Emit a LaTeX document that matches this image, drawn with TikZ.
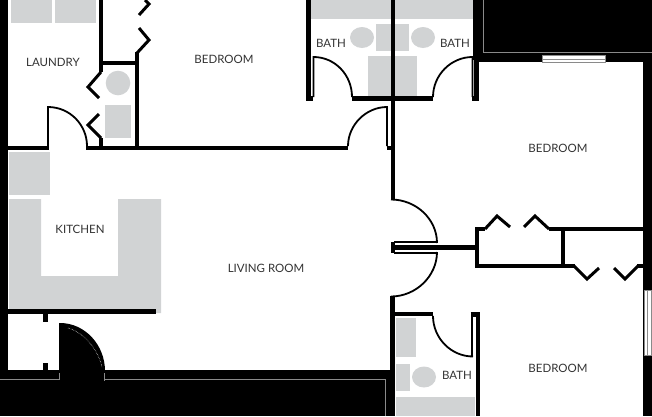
\documentclass[tikz,border=0pt]{standalone}
\usepackage{fontspec}
\setmainfont{Lato}
\definecolor{fixturegray}{HTML}{D1D3D4}
\definecolor{inkgray}{HTML}{333333}
\definecolor{seamgray}{HTML}{8A8A8A}
\tikzset{
  wall/.style={line width=4.3pt},
  swing/.style={line width=1.8pt},
  fold/.style={line width=3pt,line join=miter},
  fixture/.style={fill=fixturegray,draw=none},
  mass/.style={fill=black,draw=none},
  seam/.style={draw=seamgray,line width=0.9pt},
  glass/.style={fill=white,draw=seamgray,line width=0.7pt},
  roomlabel/.style={text=inkgray,font=\fontsize{11.5}{13}\selectfont,inner sep=0pt}
}
\begin{document}
\begin{tikzpicture}[x=1pt,y=-1pt]
  \useasboundingbox (0,0) rectangle (652,416);

  % fixtures
  \fill[fixture] (11,0) rectangle (52,23);
  \fill[fixture] (55,0) rectangle (96,23);
  \fill[fixture] (118,83) circle (12.3pt);
  \fill[fixture] (105,105) rectangle (131,138);
  \fill[fixture] (311,0) rectangle (391,19);
  \fill[fixture] (395,0) rectangle (475,19);
  \fill[fixture] (362,37.5) ellipse (12pt and 10.5pt);
  \fill[fixture] (423,37.5) ellipse (12pt and 10.5pt);
  \fill[fixture] (376,24) rectangle (391,51);
  \fill[fixture] (395,24) rectangle (409,51);
  \fill[fixture] (368,56) rectangle (391,96);
  \fill[fixture] (395,56) rectangle (417,96);
  \fill[fixture] (9,152) rectangle (50,195);
  \fill[fixture] (9,199) -- (41,199) -- (41,276) -- (118,276) -- (118,199) -- (161,199) -- (161,313) -- (9,313) -- cycle;
  \fill[fixture] (396,318) rectangle (416,357);
  \fill[fixture] (396,364) rectangle (410,391);
  \fill[fixture] (424,377) ellipse (12pt and 10.5pt);
  \fill[fixture] (396,397) rectangle (475,416);

  % outer masses
  \fill[mass] (0,0) rectangle (8,379);
  \fill[mass] (0,370) rectangle (394.5,416);
  \fill[mass] (475,0) rectangle (652,62);
  \fill[mass] (643,62) rectangle (652,416);
  \draw[seam] (483.5,0) -- (483.5,52.5) -- (652,52.5);
  \draw[seam] (0,379.5) -- (60,379.5);
  \draw[seam] (105,379.5) -- (385,379.5) -- (385,416);
  \draw[seam,line width=0.6pt] (59,373) -- (59,380);
  \draw[seam,line width=0.6pt] (104,373) -- (104,381);

  % windows
  \filldraw[glass] (542,55.5) rectangle (605,62);
  \draw[seam,line width=0.7pt] (542,59) -- (605,59);
  \filldraw[glass] (644,290) rectangle (651.5,355);
  \draw[seam,line width=0.7pt] (647.5,290) -- (647.5,355);

  % walls
  \draw[wall] (101,0) -- (101,72);
  \draw[wall] (101,63) -- (137,63);
  \draw[wall] (137,52) -- (137,148);
  \draw[wall] (101,138) -- (101,148);
  \draw[wall] (8,148) -- (49,148);
  \draw[wall] (86,148) -- (348,148);
  \draw[wall,line width=5pt] (308.5,0) -- (308.5,100);
  \draw[wall] (392.7,0) -- (392.7,200);
  \draw[wall,line width=7pt] (476.5,0) -- (476.5,60);
  \draw[wall,line width=5.5pt] (476.5,60) -- (476.5,100);
  \draw[wall] (306,98.5) -- (313,98.5);
  \draw[wall] (472,98.5) -- (479,98.5);
  \draw[wall] (352,98.5) -- (433,98.5);
  \draw[wall] (387,148) -- (394,148);
  \draw[wall,line width=4.5pt] (392.5,296) -- (392.5,380);
  \draw[wall] (391,314) -- (433,314);
  \draw[wall] (470.5,314.5) -- (480,314.5);
  \draw[wall] (478,313) -- (478,416);
  \draw[wall] (45.5,313) -- (45.5,322);
  \draw[wall] (45.5,363) -- (45.5,371);
  \draw[wall] (8,311.5) -- (156,311.5);
  \draw[wall,line width=5pt] (392.5,247.5) -- (477,247.5);
  \fill[mass] (391,242) rectangle (395,253);
  \draw[wall] (477,227) -- (477,268);
  \draw[wall] (476,229) -- (485,229);
  \draw[wall] (549,229) -- (645,229);
  \draw[wall] (563,229) -- (563,266);
  \draw[wall] (475,266) -- (575,266);
  \draw[wall] (637,266) -- (645,266);

  % folding doors
  \draw[fold] (137,53) -- (149,40) -- (139,28);
  \draw[fold] (139,15) -- (149,4) -- (145,0);
  \draw[fold] (101,72) -- (88,87) -- (99,98);
  \draw[fold] (99,114) -- (88,125) -- (101,138);
  \draw[fold] (485,229) -- (497,216) -- (510,227);
  \draw[fold] (524,227) -- (535,216) -- (549,229);
  \draw[fold] (574,266) -- (587,279) -- (599,268);
  \draw[fold] (614,268) -- (625,279) -- (638,266);

  % swinging doors
  \draw[swing] (48,146) -- (48,107) .. controls (70,107) and (87,125) .. (87,146);
  \draw[swing] (313.5,97) -- (313.5,57) .. controls (335,57) and (352,75) .. (352,97);
  \draw[swing] (472.5,97) -- (472.5,57) .. controls (451,57) and (433,75) .. (433,97);
  \draw[swing] (387,146) -- (387,107) .. controls (366,107) and (348,125) .. (348,146);
  \draw[swing] (394,242) -- (437,242);
  \draw[swing] (394,253) -- (437,253);
  \draw[swing] (391,199.5) .. controls (416,199.5) and (437,219) .. (437,243);
  \draw[swing] (437,252) .. controls (437,276) and (416,296.5) .. (391,296.5);
  \draw[swing] (433,316) .. controls (433,338) and (451,356.5) .. (473,356.5);
  \draw[swing] (472,316) -- (472,357);

  % entry door
  \fill[mass] (60,323) .. controls (85,323) and (105,345) .. (105,371) -- (60,371) -- cycle;
  \draw[swing] (60.3,323) -- (60.3,372);
  \draw[white,line width=0.5pt,densely dotted] (68,328) .. controls (85,333) and (98,350) .. (102,367);

  % rooms
  \node[roomlabel] (laundry) at (53,62) {LAUNDRY};
  \node[roomlabel] (bedroomtop) at (224,59) {BEDROOM};
  \node[roomlabel] (bathleft) at (331,43) {BATH};
  \node[roomlabel] (bathright) at (455,43) {BATH};
  \node[roomlabel] (bedroomright) at (558,148) {BEDROOM};
  \node[roomlabel] (kitchen) at (80,229) {KITCHEN};
  \node[roomlabel] (living) at (266,268) {LIVING ROOM};
  \node[roomlabel] (bathlow) at (457,375) {BATH};
  \node[roomlabel] (bedroomlow) at (558,368) {BEDROOM};
\end{tikzpicture}
\end{document}
